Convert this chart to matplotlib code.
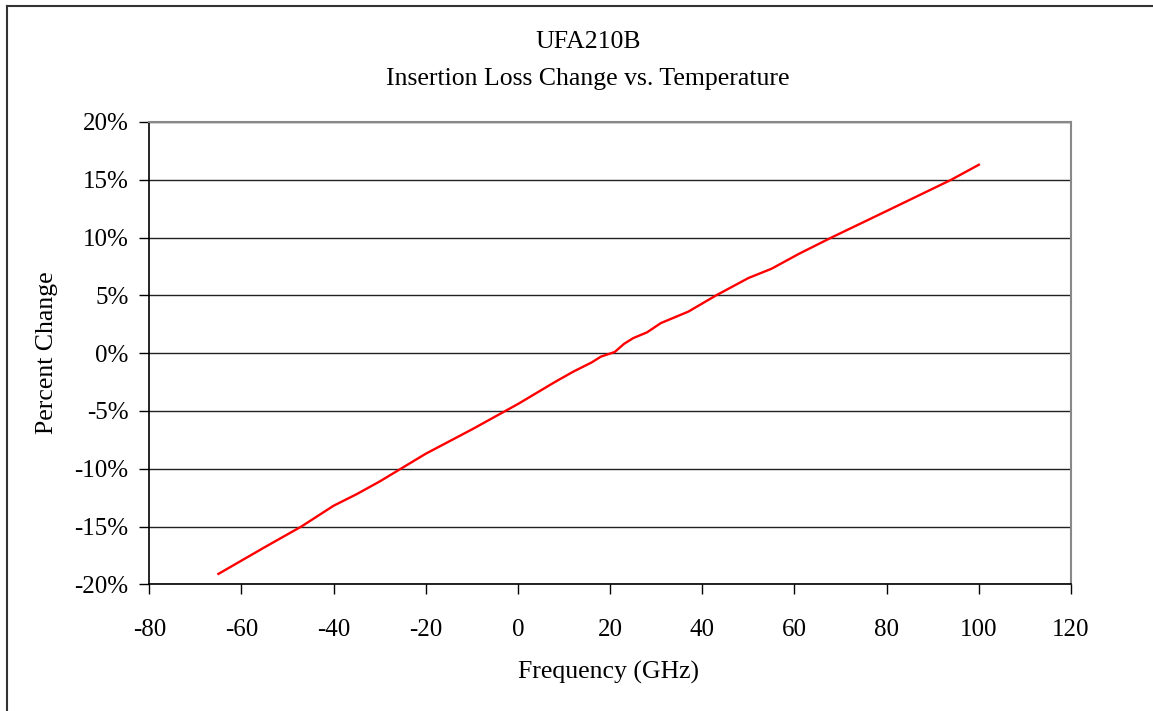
import numpy as np
import matplotlib
matplotlib.use('Agg')
import matplotlib.pyplot as plt
from matplotlib.ticker import FuncFormatter

plt.rcParams['font.family'] = ['Liberation Serif', 'DejaVu Serif']
plt.rcParams['axes.unicode_minus'] = False

# temperature points and percent change
temp = [-65, -55, -47, -40, -35, -30, -25, -20, -10, 0, 8, 12, 16, 18, 21,
        23, 25, 28, 31, 37, 43, 50, 55, 61, 68, 80, 94, 100]
pct = [-19.1, -16.8, -15.0, -13.2, -12.2, -11.1, -9.9, -8.7, -6.6, -4.4,
       -2.5, -1.6, -0.8, -0.3, 0.1, 0.8, 1.3, 1.8, 2.6, 3.6, 5.0, 6.5, 7.3,
       8.6, 10.0, 12.3, 15.0, 16.3]
xticks = [-80, -60, -40, -20, 0, 20, 40, 60, 80, 100, 120]
yticks = [-20, -15, -10, -5, 0, 5, 10, 15, 20]

fig = plt.figure(figsize=(11.53, 7.11), dpi=100)
ax = fig.add_axes([149.3 / 1153, 1 - 584.3 / 711, (1071 - 149.3) / 1153, (584.3 - 122) / 711])

ax.plot(temp, pct, color='#ff0000', lw=1.7)

ax.set_xlim(-80, 120)
ax.set_ylim(-20, 20)
ax.set_xticks(xticks)
ax.set_yticks(yticks)
ax.xaxis.set_major_formatter(FuncFormatter(lambda v, p: '%d' % v))
ax.yaxis.set_major_formatter(FuncFormatter(lambda v, p: '%d%%' % v))
ax.grid(axis='y', color='#222222', lw=1)
ax.set_axisbelow(True)
ax.tick_params(labelsize=18, length=7, width=1, direction='out', pad=8)
ax.tick_params(axis='x', pad=18)

for s in ['left', 'bottom']:
    ax.spines[s].set_color('black')
    ax.spines[s].set_linewidth(1.2)
for s in ['top', 'right']:
    ax.spines[s].set_color('#888888')
    ax.spines[s].set_linewidth(1.5)

fig.text(588 / 1153, 1 - 42 / 711, 'UFA210B', ha='center', va='center', fontsize=18.5)
fig.text(588 / 1153, 1 - 79 / 711, 'Insertion Loss Change vs. Temperature',
         ha='center', va='center', fontsize=18.5)
fig.text(47 / 1153, 1 - 353 / 711, 'Percent Change', ha='center', va='center',
         rotation=90, fontsize=18.5)
fig.text(608 / 1153, 1 - 672 / 711, 'Frequency (GHz)', ha='center', va='center', fontsize=18.5)

# outer frame (only top and left visible in reference)
fig.add_artist(plt.Line2D([7 / 1153, 1], [1 - 6 / 711, 1 - 6 / 711], color='#333333', lw=1.5))
fig.add_artist(plt.Line2D([7 / 1153, 7 / 1153], [0, 1 - 6 / 711], color='#333333', lw=1.5))

fig.savefig('out.png', dpi=100)
